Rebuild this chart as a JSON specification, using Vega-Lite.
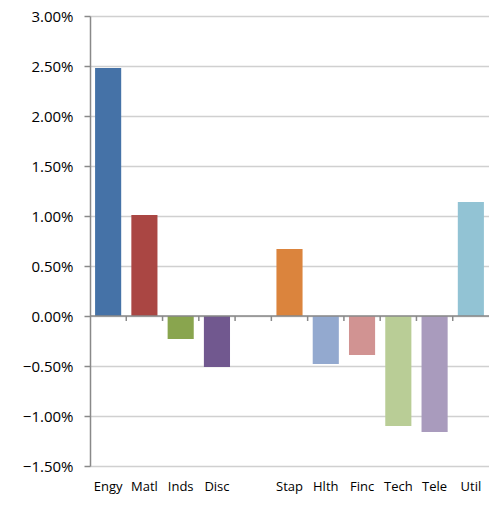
{
  "$schema": "https://vega.github.io/schema/vega-lite/v6.json",
  "width": 399,
  "height": 450,
  "autosize": {"type": "none"},
  "padding": {"left": 90, "top": 16, "right": 0, "bottom": 39},
  "background": "white",
  "config": {"view": {"stroke": null}},
  "datasets": {
    "sectors": [
      {"cat": "Engy", "value": 0.0248},
      {"cat": "Matl", "value": 0.0101},
      {"cat": "Inds", "value": -0.0023},
      {"cat": "Disc", "value": -0.0051},
      {"cat": "Stap", "value": 0.0067},
      {"cat": "Hlth", "value": -0.0048},
      {"cat": "Finc", "value": -0.0039},
      {"cat": "Tech", "value": -0.0110},
      {"cat": "Tele", "value": -0.0116},
      {"cat": "Util", "value": 0.0114}
    ],
    "bounds": [
      {"cat": "Matl"}, {"cat": "Inds"}, {"cat": "Disc"}, {"cat": " "},
      {"cat": "Stap"}, {"cat": "Hlth"}, {"cat": "Finc"}, {"cat": "Tech"},
      {"cat": "Tele"}, {"cat": "Util"}
    ]
  },
  "layer": [
    {
      "data": {"name": "sectors"},
      "mark": {"type": "bar"},
      "encoding": {
        "x": {
          "field": "cat",
          "type": "nominal",
          "sort": null,
          "scale": {
            "domain": ["Engy", "Matl", "Inds", "Disc", " ", "Stap", "Hlth", "Finc", "Tech", "Tele", "Util"],
            "paddingInner": 0.28,
            "paddingOuter": 0.14
          },
          "axis": {
            "title": null,
            "domain": false,
            "ticks": false,
            "labelAngle": 0,
            "labelFont": "Open Sans",
            "labelFontSize": 13,
            "labelColor": "#000000",
            "labelPadding": 14
          }
        },
        "y": {
          "field": "value",
          "type": "quantitative",
          "scale": {"domain": [-0.015, 0.03], "nice": false, "zero": false},
          "axis": {
            "title": null,
            "values": [-0.015, -0.01, -0.005, 0, 0.005, 0.01, 0.015, 0.02, 0.025, 0.03],
            "format": ".2%",
            "labelFont": "Open Sans",
            "labelFontSize": 15,
            "labelColor": "#000000",
            "labelPadding": 11,
            "tickSize": 6,
            "tickColor": "#898989",
            "tickWidth": 1.5,
            "domainColor": "#898989",
            "domainWidth": 1.5,
            "gridColor": "#d0d0d0",
            "gridWidth": 1.5
          }
        },
        "color": {
          "field": "cat",
          "type": "nominal",
          "scale": {
            "domain": ["Engy", "Matl", "Inds", "Disc", "Stap", "Hlth", "Finc", "Tech", "Tele", "Util"],
            "range": ["#4572a7", "#aa4643", "#89a54e", "#71588f", "#db843d", "#93a9cf", "#d19392", "#b9cd96", "#a99bbd", "#92c3d4"]
          },
          "legend": null
        }
      }
    },
    {
      "data": {"values": [{}]},
      "mark": {"type": "rule", "color": "#898989", "strokeWidth": 1.5},
      "encoding": {"y": {"datum": 0}}
    },
    {
      "data": {"name": "bounds"},
      "mark": {"type": "rule", "color": "#898989", "strokeWidth": 1.5},
      "encoding": {
        "x": {
          "field": "cat",
          "type": "nominal",
          "sort": null,
          "bandPosition": 0,
          "scale": {
            "domain": ["Engy", "Matl", "Inds", "Disc", " ", "Stap", "Hlth", "Finc", "Tech", "Tele", "Util"],
            "paddingInner": 0,
            "paddingOuter": 0
          },
          "axis": null
        },
        "y": {"datum": 0},
        "y2": {"datum": -0.0005}
      }
    }
  ],
  "resolve": {"scale": {"x": "independent", "color": "independent"}}
}
